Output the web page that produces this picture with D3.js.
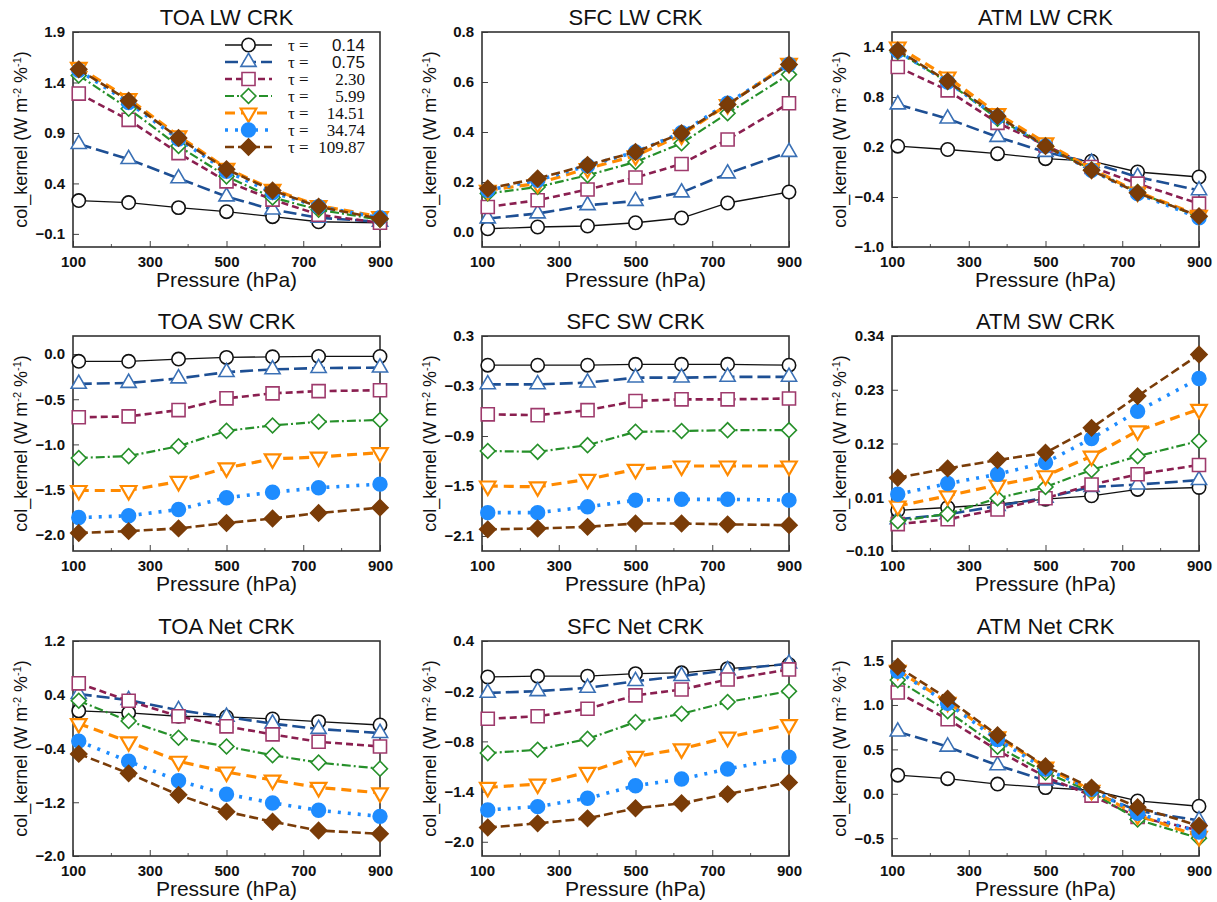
<!DOCTYPE html>
<html>
<head>
<meta charset="utf-8">
<script src="https://cdn.jsdelivr.net/npm/d3@7"></script>
<style>
  body { margin: 0; background: #fff; }
  .tick text { font-family: "Liberation Sans", Arial, sans-serif; }
</style>
</head>
<body>
<div class="chart"></div>
<script>
// pressure levels (hPa) and optical depth categories
var pressure = [115, 245, 375, 500, 620, 740, 900];
var tauLabels = ["0.14", "0.75", "2.30", "5.99", "14.51", "34.74", "109.87"];
var xTicks = [100, 300, 500, 700, 900];

// one row per tau, one value per pressure level
var toaLW = [
  [0.23, 0.21, 0.16, 0.12, 0.07, 0.02, 0.01],
  [0.79, 0.64, 0.45, 0.27, 0.14, 0.06, 0.02],
  [1.29, 1.03, 0.70, 0.42, 0.24, 0.09, 0.01],
  [1.47, 1.14, 0.77, 0.47, 0.26, 0.14, 0.04],
  [1.55, 1.24, 0.87, 0.55, 0.34, 0.18, 0.07],
  [1.52, 1.20, 0.84, 0.52, 0.31, 0.17, 0.06],
  [1.53, 1.22, 0.85, 0.54, 0.33, 0.17, 0.05]
];
var sfcLW = [
  [0.013, 0.020, 0.024, 0.037, 0.056, 0.116, 0.160],
  [0.054, 0.074, 0.107, 0.124, 0.158, 0.234, 0.320],
  [0.100, 0.127, 0.170, 0.218, 0.272, 0.370, 0.515],
  [0.154, 0.180, 0.227, 0.280, 0.355, 0.475, 0.630],
  [0.167, 0.194, 0.254, 0.305, 0.388, 0.510, 0.675],
  [0.167, 0.207, 0.265, 0.320, 0.397, 0.515, 0.670],
  [0.174, 0.214, 0.268, 0.320, 0.395, 0.510, 0.670]
];
var atmLW = [
  [0.21, 0.17, 0.12, 0.06, 0.03, -0.10, -0.16],
  [0.71, 0.54, 0.32, 0.14, 0.01, -0.16, -0.32],
  [1.16, 0.88, 0.49, 0.22, -0.04, -0.24, -0.48],
  [1.34, 0.98, 0.54, 0.22, -0.07, -0.34, -0.64],
  [1.40, 1.04, 0.60, 0.25, -0.06, -0.34, -0.62],
  [1.35, 0.98, 0.56, 0.21, -0.08, -0.36, -0.65],
  [1.36, 0.99, 0.57, 0.21, -0.08, -0.35, -0.63]
];
var toaSW = [
  [-0.08, -0.08, -0.055, -0.037, -0.03, -0.026, -0.026],
  [-0.33, -0.32, -0.27, -0.20, -0.17, -0.155, -0.15],
  [-0.70, -0.69, -0.62, -0.49, -0.435, -0.41, -0.40],
  [-1.15, -1.13, -1.02, -0.85, -0.79, -0.75, -0.73],
  [-1.51, -1.51, -1.41, -1.26, -1.16, -1.14, -1.09],
  [-1.81, -1.79, -1.72, -1.59, -1.53, -1.48, -1.44],
  [-1.98, -1.96, -1.93, -1.87, -1.82, -1.76, -1.70]
];
var sfcSW = [
  [-0.05, -0.05, -0.05, -0.04, -0.04, -0.04, -0.05],
  [-0.28, -0.28, -0.26, -0.20, -0.20, -0.19, -0.19],
  [-0.64, -0.65, -0.59, -0.48, -0.46, -0.46, -0.45],
  [-1.08, -1.09, -1.01, -0.85, -0.84, -0.83, -0.83],
  [-1.50, -1.51, -1.42, -1.30, -1.26, -1.26, -1.26],
  [-1.82, -1.82, -1.75, -1.67, -1.66, -1.66, -1.67],
  [-2.02, -2.01, -1.99, -1.95, -1.95, -1.96, -1.97]
];
var atmSW = [
  [-0.017, -0.011, -0.004, 0.006, 0.013, 0.026, 0.030],
  [-0.035, -0.025, -0.008, 0.009, 0.031, 0.036, 0.045],
  [-0.045, -0.035, -0.015, 0.008, 0.036, 0.057, 0.076],
  [-0.039, -0.024, 0.008, 0.031, 0.066, 0.094, 0.125],
  [-0.008, 0.013, 0.035, 0.054, 0.094, 0.146, 0.190],
  [0.016, 0.038, 0.057, 0.081, 0.130, 0.186, 0.253],
  [0.050, 0.069, 0.086, 0.101, 0.152, 0.217, 0.302]
];
var toaNet = [
  [0.16, 0.13, 0.08, 0.07, 0.04, 0.00, -0.05],
  [0.41, 0.32, 0.17, 0.07, -0.03, -0.11, -0.17],
  [0.57, 0.31, 0.08, -0.07, -0.19, -0.30, -0.37],
  [0.31, 0.01, -0.24, -0.37, -0.50, -0.61, -0.70],
  [-0.03, -0.30, -0.59, -0.75, -0.87, -0.98, -1.06],
  [-0.29, -0.59, -0.88, -1.08, -1.21, -1.32, -1.41],
  [-0.48, -0.77, -1.09, -1.34, -1.49, -1.62, -1.67]
];
var sfcNet = [
  [-0.03, -0.02, -0.02, 0.01, 0.02, 0.07, 0.12],
  [-0.22, -0.20, -0.16, -0.08, -0.02, 0.05, 0.13],
  [-0.53, -0.50, -0.41, -0.25, -0.18, -0.06, 0.06],
  [-0.94, -0.90, -0.77, -0.57, -0.47, -0.33, -0.20],
  [-1.35, -1.31, -1.17, -0.98, -0.89, -0.75, -0.60],
  [-1.62, -1.58, -1.48, -1.33, -1.25, -1.13, -0.99],
  [-1.83, -1.78, -1.72, -1.60, -1.54, -1.43, -1.29]
];
var atmNet = [
  [0.21, 0.17, 0.11, 0.07, 0.04, -0.08, -0.14],
  [0.70, 0.53, 0.32, 0.15, 0.02, -0.19, -0.30],
  [1.14, 0.84, 0.49, 0.19, -0.02, -0.26, -0.41],
  [1.28, 0.93, 0.53, 0.24, 0.02, -0.29, -0.50],
  [1.39, 1.03, 0.64, 0.30, 0.04, -0.24, -0.48],
  [1.38, 1.02, 0.61, 0.28, 0.05, -0.22, -0.43],
  [1.43, 1.07, 0.66, 0.31, 0.07, -0.15, -0.36]
];

// y tick labels per panel
var ticksTOALW = [-0.1, 0.4, 0.9, 1.4, 1.9];
var ticksSFCLW = [0.0, 0.2, 0.4, 0.6, 0.8];
var ticksATMLW = [-1.0, -0.4, 0.2, 0.8, 1.4];
var ticksTOASW = [-2.0, -1.5, -1.0, -0.5, 0.0];
var ticksSFCSW = [-2.1, -1.5, -0.9, -0.3, 0.3];
var ticksATMSW = [-0.10, 0.01, 0.12, 0.23, 0.34];
var ticksTOANet = [-2.0, -1.2, -0.4, 0.4, 1.2];
var ticksSFCNet = [-2.0, -1.4, -0.8, -0.2, 0.4];
var ticksATMNet = [-0.5, 0.0, 0.5, 1.0, 1.5];

var panels = [
  {title: "TOA LW CRK", data: toaLW, domain: [-0.23, 1.9], ticks: ticksTOALW, fmt: ".1f"},
  {title: "SFC LW CRK", data: sfcLW, domain: [-0.06, 0.8], ticks: ticksSFCLW, fmt: ".1f"},
  {title: "ATM LW CRK", data: atmLW, domain: [-1.0, 1.58], ticks: ticksATMLW, fmt: ".1f"},
  {title: "TOA SW CRK", data: toaSW, domain: [-2.18, 0.2], ticks: ticksTOASW, fmt: ".1f"},
  {title: "SFC SW CRK", data: sfcSW, domain: [-2.28, 0.3], ticks: ticksSFCSW, fmt: ".1f"},
  {title: "ATM SW CRK", data: atmSW, domain: [-0.10, 0.34], ticks: ticksATMSW, fmt: ".2f"},
  {title: "TOA Net CRK", data: toaNet, domain: [-2.0, 1.2], ticks: ticksTOANet, fmt: ".1f"},
  {title: "SFC Net CRK", data: sfcNet, domain: [-2.17, 0.4], ticks: ticksSFCNet, fmt: ".1f"},
  {title: "ATM Net CRK", data: atmNet, domain: [-0.7, 1.72], ticks: ticksATMNet, fmt: ".1f"}
];

// series styles
var styles = [
  {line: "#111", width: 1.3, dash: null, shape: "circle", stroke: "#111", fill: "#fff", size: 140},
  {line: "#1d4f94", width: 2.6, dash: "13,5", shape: "triangle", stroke: "#3a70b5", fill: "#fff", size: 100},
  {line: "#8a1f50", width: 2.6, dash: "7,4", shape: "square", stroke: "#9e3a6c", fill: "#fff", size: 170},
  {line: "#26902a", width: 2.2, dash: "9,3,2,3", shape: "diamond", stroke: "#26902a", fill: "#fff", size: 110},
  {line: "#ff8a00", width: 3.2, dash: "10,6", shape: "down", stroke: "#ff8a00", fill: "#fff", size: 105},
  {line: "#1e8cff", width: 3.6, dash: "3,7", shape: "circle", stroke: "#1e8cff", fill: "#1e8cff", size: 150},
  {line: "#7a3c08", width: 2.6, dash: "9,4", shape: "diamond", stroke: "#7a3c08", fill: "#7a3c08", size: 130}
];

var svgWidth = 1217;
var svgHeight = 902;
var colLeft = [73, 482, 892];
var rowTop = [32, 336, 641];
var width = 307;
var height = 215;

var svg = d3.select(".chart")
  .append("svg")
  .attr("width", svgWidth)
  .attr("height", svgHeight)
  .style("font-family", "Liberation Sans, Arial, sans-serif");

function markerPath(shape, size) {
  if (shape === "circle") return d3.symbol(d3.symbolCircle, size)();
  if (shape === "triangle" || shape === "down") return d3.symbol(d3.symbolTriangle, size)();
  return d3.symbol(d3.symbolSquare, size)();
}
function markerRotate(shape) {
  if (shape === "down") return 180;
  if (shape === "diamond") return 45;
  return 0;
}

panels.forEach(function(p, i) {
  var left = colLeft[i % 3];
  var top = rowTop[Math.floor(i / 3)];
  var g = svg.append("g").attr("transform", `translate(${left}, ${top})`);

  var x = d3.scaleLinear().domain([100, 900]).range([0, width]);
  var y = d3.scaleLinear().domain(p.domain).range([height, 0]);

  // x axis (inward ticks) + minor ticks
  var bottomAxis = d3.axisBottom(x).tickValues(xTicks).tickSizeInner(-6).tickSizeOuter(0).tickPadding(9);
  var xg = g.append("g").attr("transform", `translate(0, ${height})`).call(bottomAxis);
  xg.select(".domain").remove();
  xg.selectAll("text").attr("font-size", "15px").attr("font-weight", "bold").attr("fill", "#111");
  xg.selectAll("line").attr("stroke", "#444");
  g.append("g").selectAll("line")
    .data([200, 400, 600, 800])
    .enter().append("line")
    .attr("x1", d => x(d)).attr("x2", d => x(d))
    .attr("y1", height).attr("y2", height - 3)
    .attr("stroke", "#555");

  // y axis
  var leftAxis = d3.axisLeft(y).tickValues(p.ticks).tickFormat(d3.format(p.fmt)).tickSizeInner(-6).tickSizeOuter(0).tickPadding(8);
  var yg = g.append("g").call(leftAxis);
  yg.select(".domain").remove();
  yg.selectAll("text").attr("font-size", "15px").attr("font-weight", "bold").attr("fill", "#111");
  yg.selectAll("line").attr("stroke", "#444");

  // frame
  g.append("rect")
    .attr("width", width).attr("height", height)
    .attr("fill", "none").attr("stroke", "#333").attr("stroke-width", 1.6);

  var line = d3.line().x((d, j) => x(pressure[j])).y(d => y(d));

  p.data.forEach(function(series, s) {
    var st = styles[s];
    g.append("path")
      .datum(series)
      .attr("d", line)
      .attr("fill", "none")
      .attr("stroke", st.line)
      .attr("stroke-width", st.width)
      .attr("stroke-dasharray", st.dash);

    g.append("g").selectAll("path")
      .data(series)
      .enter().append("path")
      .attr("d", markerPath(st.shape, st.size))
      .attr("transform", (d, j) => `translate(${x(pressure[j])}, ${y(d)}) rotate(${markerRotate(st.shape)})`)
      .attr("fill", st.fill)
      .attr("stroke", st.stroke)
      .attr("stroke-width", st.shape === "down" ? 2.2 : 1.6);
  });

  // title
  g.append("text")
    .attr("x", width / 2).attr("y", -7)
    .attr("text-anchor", "middle")
    .attr("font-size", "22px")
    .attr("fill", "#111")
    .text(p.title);

  // x label
  g.append("text")
    .attr("x", width / 2).attr("y", height + 40)
    .attr("text-anchor", "middle")
    .attr("font-size", "21px")
    .attr("fill", "#111")
    .text("Pressure (hPa)");

  // y label
  var yl = g.append("text")
    .attr("transform", `translate(-46, ${height / 2}) rotate(-90)`)
    .attr("text-anchor", "middle")
    .attr("font-size", "18px")
    .attr("fill", "#111");
  yl.append("tspan").text("col_kernel (W m");
  yl.append("tspan").attr("baseline-shift", "super").attr("font-size", "11px").text("-2");
  yl.append("tspan").text(" %");
  yl.append("tspan").attr("baseline-shift", "super").attr("font-size", "11px").text("-1");
  yl.append("tspan").text(")");

  // legend in first panel
  if (i === 0) {
    var lg = g.append("g").attr("transform", "translate(152, 13)");
    styles.forEach(function(st, s) {
      var row = lg.append("g").attr("transform", `translate(0, ${s * 17})`);
      row.append("line")
        .attr("x1", 0).attr("x2", 47)
        .attr("stroke", st.line)
        .attr("stroke-width", st.width)
        .attr("stroke-dasharray", st.dash);
      row.append("path")
        .attr("d", markerPath(st.shape, st.size))
        .attr("transform", `translate(23.5, 0) rotate(${markerRotate(st.shape)})`)
        .attr("fill", st.fill)
        .attr("stroke", st.stroke)
        .attr("stroke-width", st.shape === "down" ? 2.2 : 1.6);
      row.append("text")
        .attr("x", 63).attr("y", 6)
        .attr("font-family", "Liberation Serif, Times New Roman, serif")
        .attr("font-size", "17px")
        .attr("fill", "#111")
        .text("\u03c4 =");
      row.append("text")
        .attr("x", 140).attr("y", 6)
        .attr("text-anchor", "end")
        .attr("font-family", s < 2 ? "Liberation Sans, Arial, sans-serif" : "Liberation Serif, Times New Roman, serif")
        .attr("font-size", "17px")
        .attr("fill", "#111")
        .text(tauLabels[s]);
    });
  }
});
</script>
</body>
</html>
